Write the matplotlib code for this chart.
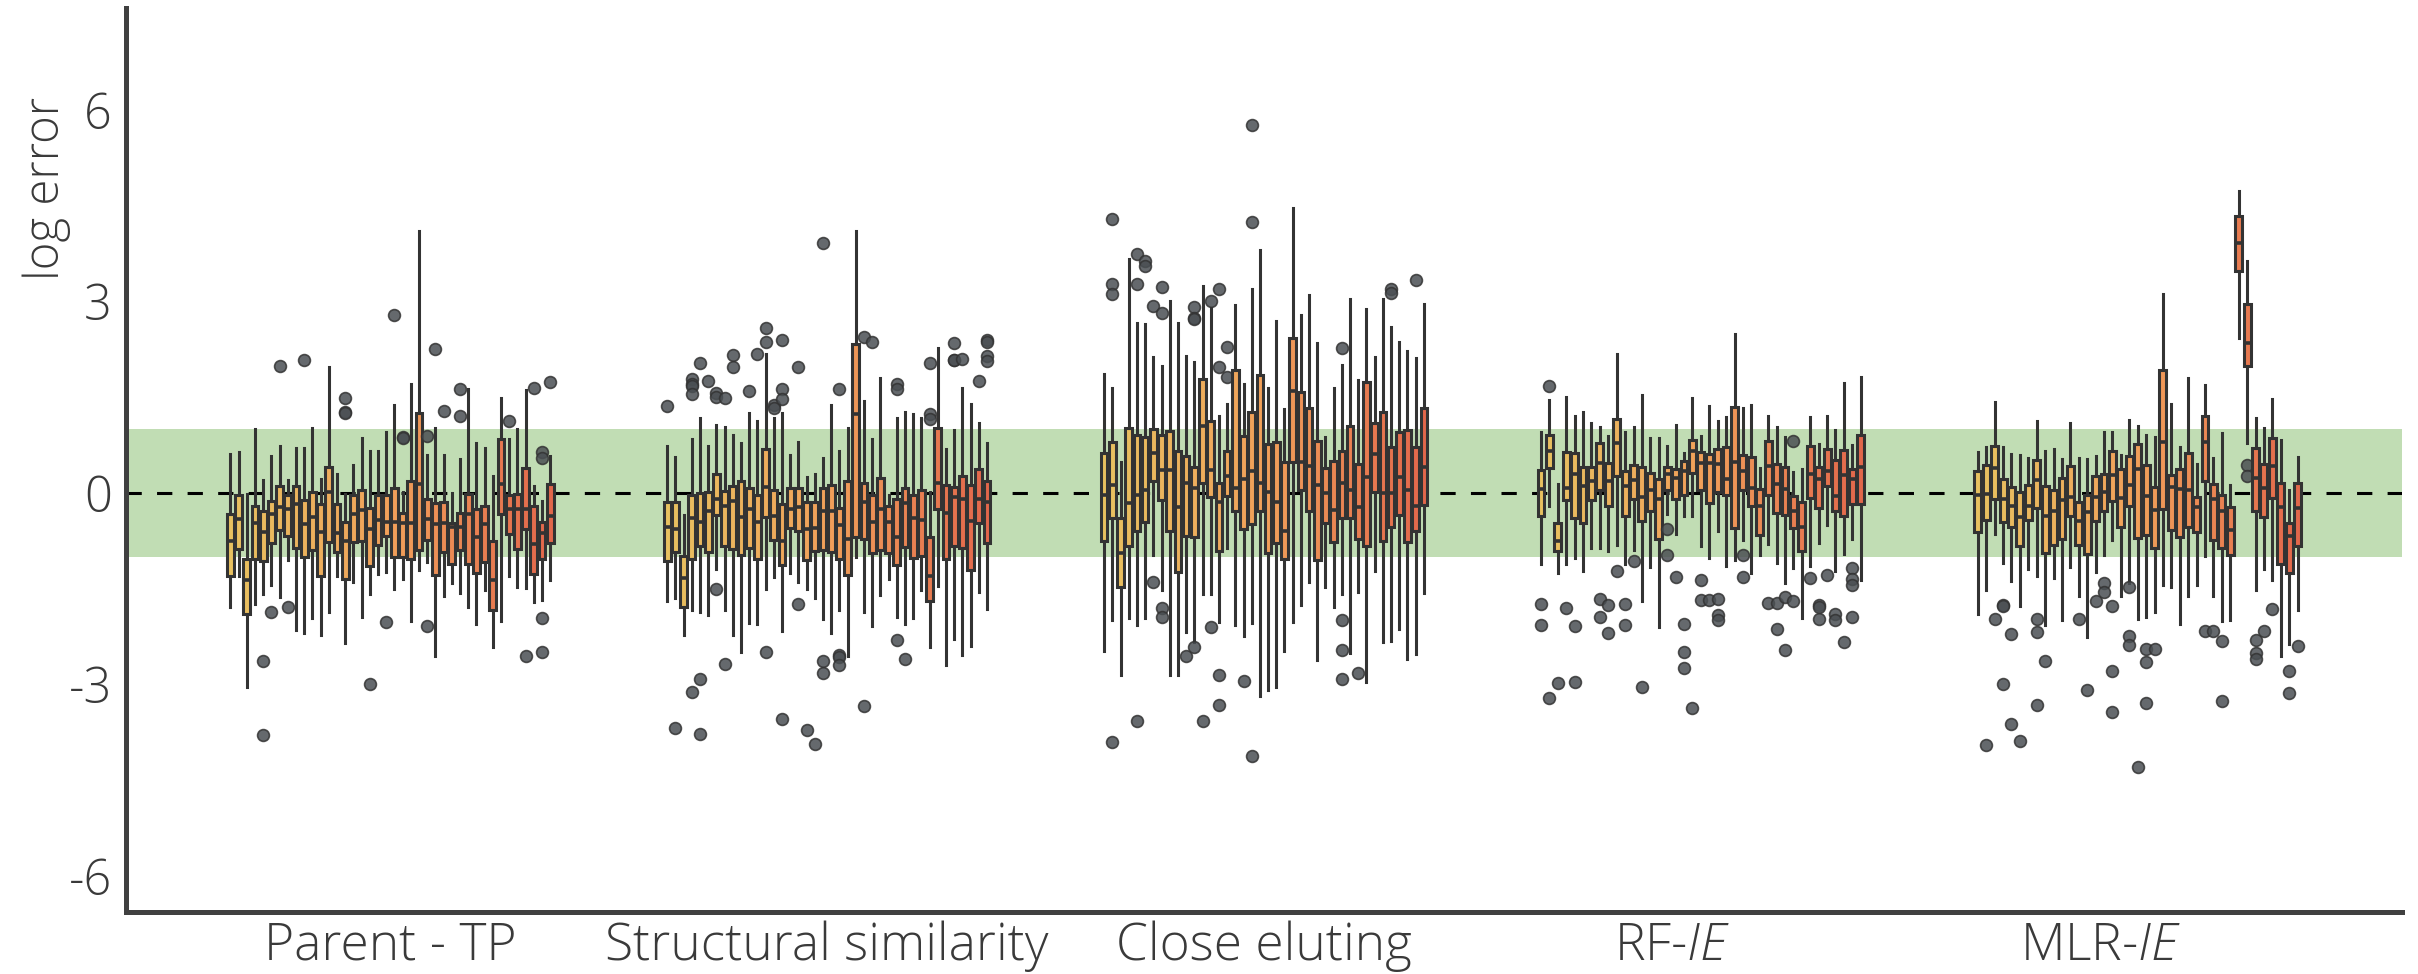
import numpy as np
import matplotlib.pyplot as plt
from matplotlib.colors import LinearSegmentedColormap

plt.rcParams['font.family'] = ['Open Sans', 'DejaVu Sans']
plt.rcParams['axes.unicode_minus'] = False
plt.rcParams['mathtext.fontset'] = 'custom'
plt.rcParams['mathtext.it'] = 'Open Sans:italic:light'
plt.rcParams['mathtext.rm'] = 'Open Sans:light'

categories = ['Parent - TP', 'Structural similarity', 'Close eluting',
              'RF-$\\mathit{IE}$', 'MLR-$\\mathit{IE}$']
# label anchors: the last two labels sit a little left of their group centre
label_pos = [0, 1, 2, 2.935, 3.915]
yticks = [-6, -3, 0, 3, 6]

# ---- Parent - TP ----
pt_lo = [-1.79, -1.30, -3.05, -1.74, -1.58, -1.45, -1.63, -1.05, -2.15, -2.20, -1.96, -2.23, -1.87, -1.31,
         -2.36, -1.40, -1.95, -1.58, -1.27, -1.24, -1.50, -1.35, -2.01, -1.21, -1.09, -2.56, -1.61, -1.42,
         -1.57, -1.79, -2.06, -1.53, -2.42, -2.01, -1.30, -1.48, -1.49, -1.71, -1.68, -1.36]
pt_q1 = [-1.31, -0.88, -1.90, -1.03, -1.07, -0.78, -0.59, -0.67, -0.86, -1.01, -0.90, -1.30, -0.77, -0.93,
         -1.35, -0.77, -0.75, -1.14, -0.81, -0.67, -1.00, -1.00, -1.03, -0.89, -0.74, -1.28, -0.93, -1.12,
         -0.90, -1.11, -1.26, -1.09, -1.84, -0.33, -0.64, -0.88, -0.56, -1.27, -1.03, -0.78]
pt_med = [-0.76, -0.41, -1.37, -0.48, -0.62, -0.33, -0.22, -0.25, -0.17, -0.49, -0.38, -0.62, 0.01, -0.63,
          -0.75, -0.33, -0.27, -0.56, -0.43, -0.46, -0.46, -0.48, -0.48, 0.14, -0.41, -0.49, -0.48, -0.54,
          -0.54, -0.33, -0.69, -0.49, -1.37, 0.14, -0.25, -0.25, -0.25, -0.80, -0.63, -0.36]
pt_q3 = [-0.33, -0.04, -1.04, -0.20, -0.29, -0.12, 0.11, -0.03, 0.10, -0.11, 0.02, -0.18, 0.40, -0.17,
         -0.46, -0.03, 0.05, -0.23, -0.04, -0.04, 0.08, -0.31, 0.19, 1.25, -0.10, -0.16, -0.15, -0.48,
         -0.31, -0.02, -0.25, -0.21, -0.75, 0.85, -0.04, -0.02, 0.39, -0.21, -0.46, 0.14]
pt_hi = [0.61, 0.64, -0.02, 1.00, 0.20, 0.57, 0.73, 0.20, 0.70, 0.71, 1.01, 0.22, 1.98, 0.30,
         -0.02, 0.44, 0.86, 0.65, 0.66, 0.95, 1.38, 0.01, 1.71, 4.11, 0.60, 1.01, 0.60, 0.00,
         0.53, 1.63, 0.78, 0.70, 0.26, 1.48, 0.84, 1.00, 1.61, 0.10, -0.12, 0.58]
pt_out = [[], [], [], [], [-2.63, -3.8], [-1.87], [1.99], [-1.79], [], [2.09], [], [], [], [],
          [1.48, 1.26, 1.25], [], [], [-3.0], [], [-2.03], [2.79], [0.87, 0.86], [], [], [0.89, -2.09],
          [2.26], [1.29], [], [1.63, 1.21], [], [], [], [], [], [1.13], [], [-2.55], [1.64],
          [0.64, 0.55, -1.96, -2.50], [1.74]]

# ---- Structural similarity ----
ss_lo = [-1.69, -1.65, -2.23, -1.83, -1.86, -1.92, -1.20, -1.83, -2.23, -2.50, -2.04, -2.06, -1.51, -1.32,
         -2.16, -1.26, -1.39, -1.50, -1.65, -1.98, -2.20, -1.83, -2.56, -1.01, -1.86, -2.09, -1.60, -1.35,
         -1.95, -2.05, -1.96, -1.53, -2.42, -1.46, -2.70, -2.29, -2.54, -2.40, -1.55, -1.82]
ss_q1 = [-1.07, -0.92, -1.79, -1.03, -0.84, -0.92, -0.35, -0.84, -0.88, -0.98, -0.86, -1.03, -0.38, -0.74,
         -1.13, -0.55, -0.60, -1.05, -0.91, -0.90, -0.92, -1.04, -1.28, -0.69, -0.73, -0.94, -0.90, -0.94,
         -1.13, -0.85, -1.02, -0.99, -1.69, -0.25, -1.04, -0.84, -0.87, -1.21, -0.48, -0.78]
ss_med = [-0.53, -0.57, -1.33, -0.40, -0.46, -0.29, -0.09, -0.21, -0.13, -0.38, -0.26, -0.45, 0.09, -0.37,
          -0.75, -0.26, -0.22, -0.57, -0.55, -0.28, -0.29, -0.51, -0.73, 1.23, -0.14, -0.45, -0.25, -0.46,
          -0.69, -0.16, -0.39, -0.43, -1.30, 0.15, -0.31, -0.06, -0.09, -0.44, -0.09, -0.14]
ss_q3 = [-0.14, -0.14, -0.99, -0.03, 0.00, 0.01, 0.30, 0.03, 0.11, 0.19, 0.08, -0.04, 0.68, 0.05,
         -0.18, 0.08, 0.07, -0.14, -0.14, 0.08, 0.13, -0.24, 0.19, 2.33, 0.16, -0.03, 0.23, -0.21,
         -0.09, 0.08, -0.03, 0.05, -0.69, 1.01, 0.13, 0.09, 0.26, 0.13, 0.38, 0.19]
ss_hi = [0.74, 0.56, -0.34, 0.85, 1.18, 0.74, 1.06, 1.04, 0.90, 0.78, 1.25, 1.13, 2.18, 1.18,
         1.25, 0.59, 0.79, 0.25, 0.29, 0.55, 1.37, 0.65, 1.01, 4.10, 1.44, 0.84, 1.80, -0.03,
         1.18, 1.26, 1.24, 1.18, 0.02, 2.27, 0.69, 0.99, 1.65, 1.40, 1.10, 0.78]
ss_out = [[1.36], [-3.68], [], [1.79, 1.71, 1.67, 1.55, -3.12], [2.04, -2.91, -3.78], [1.75],
          [1.57, 1.51, -1.50], [1.49, -2.68], [2.16, 1.98], [], [1.60], [2.18], [2.58, 2.37, -2.50],
          [1.37, 1.33], [2.40, 1.63, 1.47, -3.54], [], [1.97, -1.74], [-3.71], [-3.93],
          [3.91, -2.63, -2.82], [], [1.63, -2.54, -2.58, -2.70], [], [], [2.45, -3.34], [2.37], [], [],
          [1.71, 1.63, -2.31], [-2.60], [], [], [2.04, 1.24, 1.16], [], [], [2.35, 2.09, 2.08], [2.10],
          [], [1.76], [2.40, 2.37, 2.15, 2.07]]

# ---- Close eluting ----
ce_lo = [-2.48, -1.99, -2.86, -1.96, -2.07, -1.96, -0.98, -1.53, -2.86, -2.86, -2.18, -2.34, -1.58, -1.58,
         -2.02, -0.86, -2.07, -2.25, -2.04, -3.19, -3.09, -3.04, -2.48, -2.03, -1.76, -1.39, -2.62, -1.47,
         -1.79, -1.58, -2.51, -1.56, -2.97, -1.23, -2.34, -2.32, -2.13, -2.60, -2.53, -1.57]
ce_q1 = [-0.75, -0.40, -1.47, -0.83, -0.60, -0.46, 0.18, -0.11, -0.60, -1.24, -0.67, -0.69, 0.16, -0.07,
         -0.91, -0.05, -0.29, -0.56, -0.49, -0.29, -0.95, -0.79, -1.03, 0.49, 0.05, -0.29, -1.05, -0.47,
         -0.77, -0.39, -0.40, -0.72, -0.84, 0.02, -0.75, -0.53, -0.35, -0.77, -0.60, -0.19]
ce_med = [-0.04, 0.13, -0.95, -0.16, -0.04, 0.04, 0.63, 0.36, 0.36, -0.22, 0.16, 0.07, 1.05, 0.36,
          -0.14, 0.26, 0.07, 0.21, 0.35, 0.16, 0.02, -0.14, -0.60, 1.59, 0.49, 0.42, 0.13, 0.00,
          -0.27, 0.16, 0.05, -0.22, 0.25, 0.61, 0.00, 0.00, 0.25, 0.05, -0.20, 0.41]
ce_q3 = [0.63, 0.79, -0.40, 1.02, 0.91, 0.88, 1.00, 0.90, 0.97, 0.65, 0.58, 0.41, 1.79, 1.12,
         0.16, 0.65, 1.93, 0.89, 1.26, 1.85, 0.77, 0.79, 0.49, 2.43, 1.58, 1.33, 0.81, 0.39,
         0.50, 0.65, 1.05, 0.46, 1.74, 1.09, 1.26, 0.72, 0.95, 0.98, 0.72, 1.33]
ce_hi = [1.87, 1.65, 0.48, 3.66, 2.67, 2.65, 2.13, 1.99, 3.00, 2.67, 2.15, 2.05, 3.24, 2.90,
         1.21, 1.40, 2.95, 1.71, 3.19, 3.80, 1.64, 2.69, 1.32, 4.47, 2.79, 3.10, 2.35, 0.88,
         1.65, 2.00, 3.04, 1.77, 2.88, 2.13, 3.04, 2.60, 2.37, 2.22, 2.11, 2.96]
ce_out = [[], [4.30, 3.28, 3.12, -3.90], [], [], [3.75, 3.28, -3.58], [3.63, 3.56], [2.93, -1.40],
          [3.23, 2.82, -1.80, -1.94], [], [], [-2.56], [2.91, 2.74, 2.72, -2.42], [-3.58], [3.00, -2.11],
          [3.19, 1.98, -2.86, -3.33], [2.28, 1.81], [], [-2.95], [5.77, 4.25, -4.13], [], [], [], [], [],
          [], [], [], [], [], [2.27, -2.00, -2.46, -2.91], [], [-2.83], [], [], [], [3.19, 3.14], [], [],
          [3.33], []]

# ---- RF-IE ----
rf_lo = [-1.11, -0.21, -1.25, -1.11, -1.02, -1.23, -0.87, -0.87, -0.91, -0.82, -1.11, -0.89, -1.70,
         -1.17, -2.10, -0.33, -0.64, -0.36, -0.36, -0.83, -1.02, -0.60, -1.15, -1.05, -0.74, -1.25,
         -0.98, -0.80, -1.10, -1.41, -1.18, -1.96, -1.14, -0.78, -0.51, -1.23, -0.96, -0.73, -1.37]
rf_q1 = [-0.37, 0.39, -0.91, -0.11, -0.39, -0.48, -0.11, 0.05, -0.21, 0.26, -0.37, -0.09, -0.44,
         -0.29, -0.72, 0.05, -0.09, -0.03, 0.31, 0.05, -0.16, 0.01, -0.04, -0.55, 0.04, -0.21,
         -0.66, -0.03, -0.32, -0.34, -0.55, -0.91, -0.08, -0.23, 0.10, -0.28, -0.36, -0.17, -0.17]
rf_med = [0.06, 0.65, -0.76, 0.08, 0.29, 0.10, 0.19, 0.47, 0.19, 0.78, 0.10, 0.20, -0.07,
          0.04, -0.09, 0.29, 0.23, 0.34, 0.66, 0.47, 0.47, 0.46, 0.22, 0.49, 0.35, 0.07,
          -0.21, 0.42, 0.14, 0.06, -0.29, -0.53, 0.29, 0.21, 0.35, -0.05, 0.28, 0.21, 0.40]
rf_q3 = [0.36, 0.91, -0.48, 0.64, 0.63, 0.41, 0.40, 0.78, 0.47, 1.15, 0.34, 0.44, 0.40,
         0.31, 0.21, 0.41, 0.37, 0.50, 0.83, 0.64, 0.61, 0.69, 0.72, 1.34, 0.60, 0.56,
         0.06, 0.81, 0.45, 0.41, -0.05, -0.14, 0.73, 0.41, 0.69, 0.52, 0.67, 0.37, 0.91]
rf_hi = [0.95, 1.45, 0.14, 1.51, 1.21, 1.26, 1.09, 1.04, 0.89, 2.18, 0.96, 1.03, 1.53,
         0.86, 0.86, 0.73, 1.06, 0.63, 1.49, 0.89, 1.36, 1.13, 1.19, 2.49, 1.33, 1.38,
         0.39, 1.21, 1.03, 0.88, 0.32, 0.37, 1.19, 0.76, 1.20, 0.98, 1.72, 0.75, 1.81]
rf_out = [[-1.75, -2.07], [1.68, -3.21], [-2.98], [-1.80], [-2.09, -2.96], [], [], [-1.66, -1.94],
          [-1.76, -2.19], [-1.23], [-1.75, -2.07], [-1.07], [-3.04], [], [], [-0.57, -0.97], [-1.32],
          [-2.06, -2.50, -2.74], [-3.37], [-1.36, -1.68], [-1.68], [-1.66, -1.92, -1.99], [], [],
          [-0.97, -1.32], [], [], [-1.72], [-1.73, -2.14], [-1.64, -2.46], [0.81, -1.69], [], [-1.33],
          [-1.76, -1.79, -1.97], [-1.28], [-1.90, -2.00], [-2.33], [-1.18, -1.35, -1.44, -1.95], []]

# ---- MLR-IE ----
mlr_lo = [-1.90, -1.52, -0.65, -1.10, -1.38, -1.77, -1.20, -1.31, -2.07, -1.33, -2.00, -1.17, -1.61,
          -2.26, -1.24, -0.97, -0.74, -1.62, -1.41, -1.97, -1.95, -1.86, -1.44, -1.47, -2.06, -1.61,
          -1.44, -0.99, -1.61, -2.01, -2.00, 2.42, 0.78, -1.52, -1.19, -1.36, -2.56, -2.37, -1.83]
mlr_q1 = [-0.62, -0.42, -0.10, -0.45, -0.53, -0.84, -0.42, -0.24, -0.94, -0.81, -0.73, -0.36, -0.81,
          -0.96, -0.44, -0.29, -0.12, -0.53, -0.21, -0.70, -0.66, -0.86, -0.26, -0.59, -0.69, -0.53,
          -0.62, 0.18, -0.74, -0.87, -0.97, 3.48, 1.99, -0.28, -0.38, -0.08, -1.11, -1.26, -0.84]
mlr_med = [-0.03, -0.02, 0.39, -0.10, -0.20, -0.38, -0.21, 0.20, -0.36, -0.29, -0.11, -0.07, -0.44,
           -0.30, -0.06, 0.01, 0.28, -0.08, 0.13, 0.38, -0.05, -0.27, 0.79, 0.09, 0.06, 0.05,
           -0.22, 0.80, -0.10, -0.29, -0.59, 3.92, 2.35, 0.23, 0.07, 0.42, -0.22, -0.68, -0.23]
mlr_q3 = [0.35, 0.43, 0.74, 0.22, 0.09, 0.02, 0.12, 0.51, 0.10, 0.05, 0.23, 0.42, -0.15,
          -0.03, 0.26, 0.29, 0.65, 0.38, 0.57, 0.76, 0.44, 0.09, 1.92, 0.28, 0.37, 0.63,
          -0.06, 1.21, 0.14, -0.03, -0.22, 4.34, 2.96, 0.70, 0.46, 0.86, 0.15, -0.48, 0.16]
mlr_hi = [0.64, 0.72, 1.42, 0.72, 0.61, 0.59, 0.55, 1.12, 0.66, 0.69, 0.53, 1.09, 0.54,
          0.53, 0.57, 0.95, 0.96, 0.59, 1.14, 1.05, 0.90, 0.88, 3.12, 1.40, 0.72, 1.80,
          0.45, 1.69, 0.55, 0.94, 0.13, 4.73, 3.63, 1.17, 1.02, 1.47, 0.83, 0.05, 0.56]
mlr_out = [[], [-3.95], [-1.98], [-1.76, -1.77, -3.00], [-2.22, -3.63], [-3.89], [],
           [-1.98, -2.18, -3.33], [-2.64], [], [], [], [-1.98], [-3.09], [-1.70], [-1.41, -1.55],
           [-1.78, -2.80, -3.44], [], [-1.47, -2.24, -2.39], [-4.30], [-2.44, -2.65, -3.29], [-2.45],
           [], [], [], [], [], [-2.17], [-2.17], [-2.32, -3.26], [], [], [0.44, 0.27],
           [-2.31, -2.51, -2.60], [-2.16], [-1.82], [], [-2.80, -3.13], [-2.40]]

groups = [
    (pt_lo, pt_q1, pt_med, pt_q3, pt_hi, pt_out),
    (ss_lo, ss_q1, ss_med, ss_q3, ss_hi, ss_out),
    (ce_lo, ce_q1, ce_med, ce_q3, ce_hi, ce_out),
    (rf_lo, rf_q1, rf_med, rf_q3, rf_hi, rf_out),
    (mlr_lo, mlr_q1, mlr_med, mlr_q3, mlr_hi, mlr_out),
]

cmap = LinearSegmentedColormap.from_list('box', ['#e8c160', '#f1a05a', '#e2674b'])
edge = '#333333'
text_col = '#3a3a3a'
half_span = 0.366

fig = plt.figure(figsize=(24.18, 9.74), dpi=100)
ax = fig.add_axes([126 / 2418, 62 / 974, (2402 - 126) / 2418, (912 - 8) / 974])

ax.axhspan(-1, 1, color='#c1ddb4', lw=0, zorder=0)
ax.axhline(0, color='black', lw=2.2, dashes=(5, 5), zorder=1)

for g, (lo, q1, med, q3, hi, outs) in enumerate(groups):
    n = len(med)
    pos = g + np.linspace(-half_span, half_span, n)
    slot = 2 * half_span / (n - 1)
    stats = [dict(whislo=lo[i], q1=q1[i], med=med[i], q3=q3[i], whishi=hi[i], fliers=outs[i])
             for i in range(n)]
    bp = ax.bxp(stats, positions=pos, widths=slot * 0.82, patch_artist=True,
                showcaps=False, manage_ticks=False,
                boxprops=dict(edgecolor=edge, linewidth=2.2),
                whiskerprops=dict(color=edge, linewidth=2.2),
                medianprops=dict(color=edge, linewidth=2.6),
                flierprops=dict(marker='o', markerfacecolor='#4a4f53', markeredgecolor='#333333',
                                markersize=8.5, markeredgewidth=1.2, alpha=0.85))
    colors = cmap(np.linspace(0, 1, n))
    for patch, c in zip(bp['boxes'], colors):
        patch.set_facecolor(c)
        patch.set_zorder(2)

ax.set_xlim(-0.605, 4.605)
ax.set_ylim(-6.57, 7.6)
ax.set_xticks(label_pos)
ax.set_xticklabels(categories)
ax.set_yticks(yticks)
ax.set_yticklabels([str(t) for t in yticks])
ax.tick_params(axis='both', length=0, labelcolor=text_col)
ax.tick_params(axis='x', pad=6, labelsize=37)
ax.tick_params(axis='y', pad=10, labelsize=35)
for lab in ax.get_xticklabels() + ax.get_yticklabels():
    lab.set_fontweight('light')

ax.set_ylabel('log error', fontsize=34, color=text_col, fontweight='light')
ax.yaxis.set_label_coords(-0.024, 0.80)

for side in ['top', 'right']:
    ax.spines[side].set_visible(False)
for side in ['left', 'bottom']:
    ax.spines[side].set_linewidth(3.6)
    ax.spines[side].set_color('#404040')

fig.savefig('out.png', dpi=100)
